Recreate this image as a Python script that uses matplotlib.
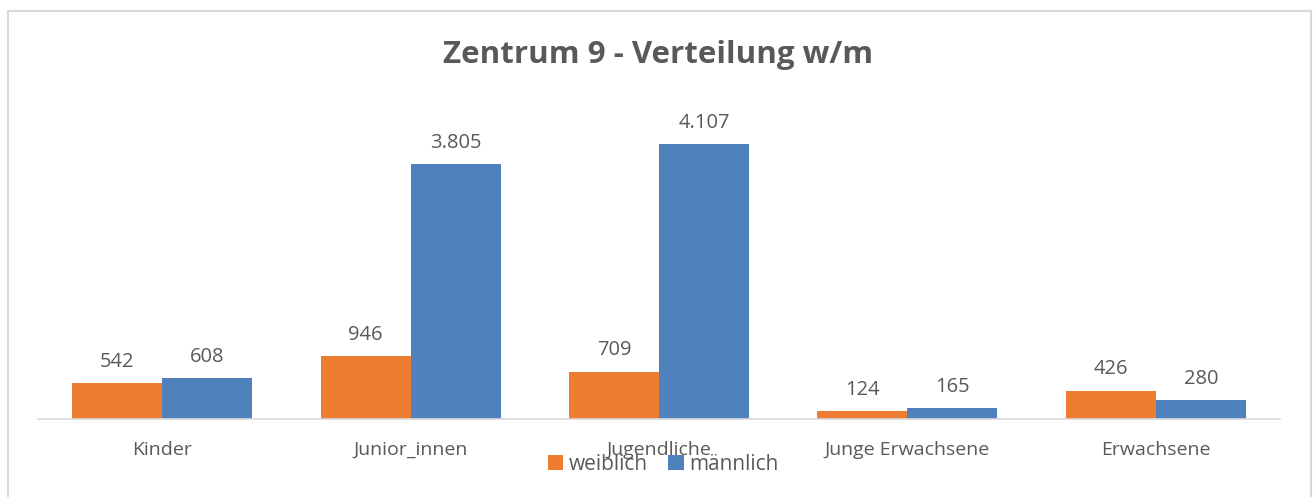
import matplotlib.pyplot as plt
import numpy as np
from matplotlib.patches import Rectangle

# Daten
kategorien = ['Kinder', 'Junior_innen', 'Jugendliche', 'Junge Erwachsene', 'Erwachsene']
weiblich = [542, 946, 709, 124, 426]
maennlich = [608, 3805, 4107, 165, 280]

plt.rcParams['font.family'] = ['Open Sans', 'DejaVu Sans']
grau = '#595959'
orange = '#ED7D31'
blau = '#4F81BD'

fig = plt.figure(figsize=(13.14, 4.97), dpi=100)
ax = fig.add_axes([38/1314, 1 - 419/497, 1242/1314, 301/497])

x = np.arange(len(kategorien))
b = 0.362
bars_w = ax.bar(x - b/2, weiblich, b, color=orange, label='weiblich')
bars_m = ax.bar(x + b/2, maennlich, b, color=blau, label='männlich')

def fmt(v):
    return f'{v:,}'.replace(',', '.')

for bars in (bars_w, bars_m):
    for r in bars:
        ax.annotate(fmt(int(r.get_height())), (r.get_x() + r.get_width()/2, r.get_height()),
                    xytext=(0, 8), textcoords='offset points', ha='center', va='bottom',
                    fontsize=14.5, color=grau)

ax.set_xlim(-0.5, len(kategorien) - 0.5)
ax.set_ylim(0, 4500)
ax.set_xticks(x)
ax.set_xticklabels(kategorien, fontsize=14, color=grau)
ax.tick_params(axis='x', length=0, pad=16)
ax.set_yticks([])
for s in ['top', 'right', 'left']:
    ax.spines[s].set_visible(False)
ax.spines['bottom'].set_color('#D9D9D9')
ax.spines['bottom'].set_linewidth(1.2)

fig.text(658/1314, 1 - 55/497, 'Zentrum 9 - Verteilung w/m', ha='center', va='center',
         fontsize=22.5, fontweight='bold', color=grau)

leg = fig.legend(loc='center', bbox_to_anchor=(663/1314, 1 - 464/497), ncol=2, frameon=False,
                 fontsize=15, handlelength=0.75, handleheight=0.75, handletextpad=0.25,
                 columnspacing=1.0, labelcolor=grau)

fig.patches.append(Rectangle((7.5/1314, -0.1), 1303/1314, 1 - 10.5/497 + 0.1,
                             transform=fig.transFigure, fill=False, edgecolor='#D9D9D9',
                             linewidth=1.5))

plt.savefig('out.png', dpi=100)
